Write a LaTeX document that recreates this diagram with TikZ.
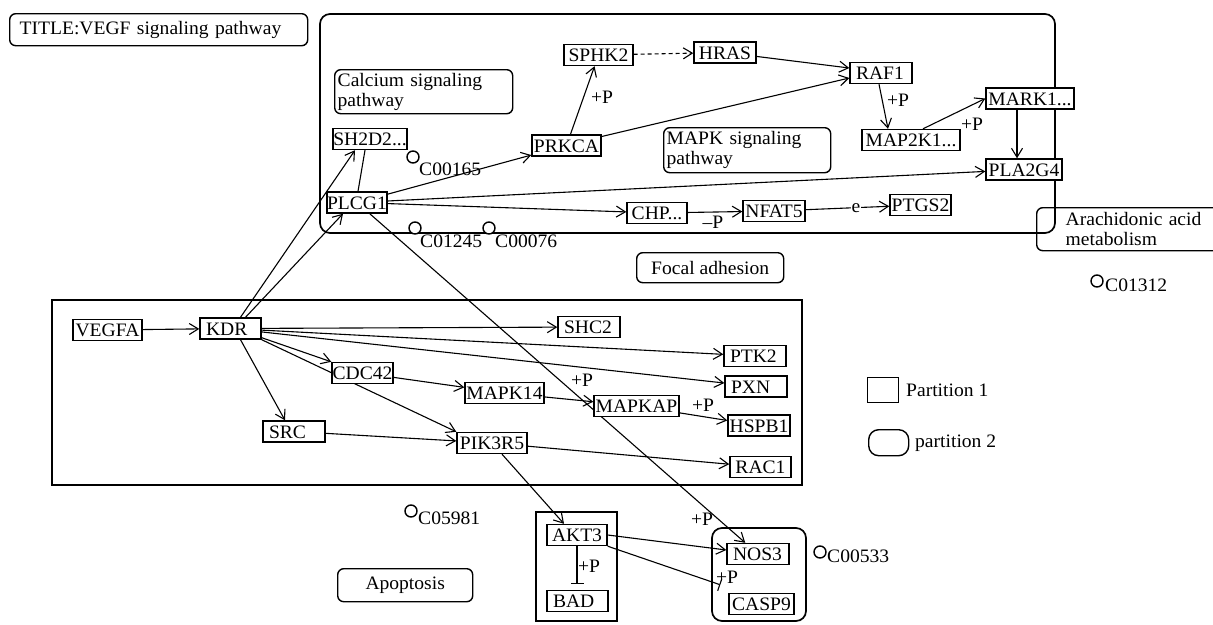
\documentclass[tikz,border=0pt]{standalone}
\usepackage{fontspec}
\setmainfont{Liberation Serif}[FakeStretch=1.03]
\usetikzlibrary{arrows.meta}
\pgfdeclarelayer{bg}
\pgfdeclarelayer{edges}
\pgfsetlayers{bg,edges,main}
\newlength\gtw
\newcommand\gt[2]{\settowidth\gtw{#2}\ifdim\gtw>\dimexpr#1pt-12pt\relax\makebox[#1pt][c]{#2}\else\makebox[#1pt][l]{\hspace{6pt}#2}\fi}
\begin{document}
\begin{tikzpicture}[x=1pt,y=-1pt,
 font=\fontsize{19pt}{20pt}\selectfont,
 gene/.style={draw, fill=white, line width=1.4pt, minimum height=21pt, inner xsep=0pt, inner ysep=0pt, text height=13pt, text depth=0pt},
 cpd/.style={circle, draw, fill=white, line width=1.4pt, minimum size=12pt, inner sep=0pt},
 lbl/.style={inner sep=1pt},
 pw/.style={draw, rounded corners=6pt, line width=1.4pt, align=left, inner ysep=0pt, anchor=north west},
 act/.style={line width=1.1pt, -{Straight Barb[length=9pt,width=11pt]}},
 inh/.style={line width=1.1pt, -{Bar[width=13pt]}},
 link/.style={line width=1.1pt},
 cont/.style={line width=1.7pt},
]
\useasboundingbox (0,0) rectangle (1213,624);
\begin{pgfonlayer}{bg}
\fill[white] (0,0) rectangle (1213,624);
\end{pgfonlayer}
\clip (0,0) rectangle (1213,624);

% containers
\draw[cont, rounded corners=10pt] (320,14) rectangle (1055,233);
\draw[cont] (52,300) rectangle (802,485);
\draw[cont] (536,512) rectangle (617,621);
\draw[cont, rounded corners=10pt] (712,528) rectangle (806,621);

% pathway boxes
\node[pw, inner xsep=10pt, text width=278pt, minimum height=32pt] (title) at (9,13) {TITLE:VEGF signaling pathway};
\node[pw, inner xsep=3pt, text width=172pt, minimum height=44pt] (calc) at (334,69) {Calcium signaling\\pathway};
\node[pw, inner xsep=3pt, text width=161pt, minimum height=45pt] (mapkpw) at (663,127) {MAPK signaling\\pathway};
\node[pw, inner xsep=29pt, text width=142pt, minimum height=43pt] (arach) at (1036,207) {Arachidonic acid\\metabolism};
\node[pw, inner xsep=0pt, align=center, minimum width=147pt, minimum height=30pt] (focal) at (636,252) {Focal adhesion};
\node[pw, inner xsep=0pt, align=center, minimum width=135pt, minimum height=33pt] (apop) at (337,568) {Apoptosis};

% legend
\node[draw, line width=1.4pt, minimum width=31pt, minimum height=25pt, inner sep=0pt, anchor=north west] (leg1) at (867,377) {};
\node[draw, line width=1.4pt, rounded corners=10pt, minimum width=40pt, minimum height=26pt, inner sep=0pt, anchor=north west] (leg2) at (868,429) {};
\node[lbl, anchor=west] (leg1t) at (905,390) {Partition 1};
\node[lbl, anchor=west] (leg2t) at (914,443) {partition 2};

% genes
\node[gene] (vegfa) at (107.5,330) {\gt{69}{VEGFA}};
\node[gene] (kdr) at (230.5,328.5) {\gt{61}{KDR}};
\node[gene] (shc2) at (589,327) {\gt{62}{SHC2}};
\node[gene] (ptk2) at (755,356) {\gt{62}{PTK2}};
\node[gene] (pxn) at (756,386.5) {\gt{62}{PXN}};
\node[gene] (cdc42) at (362.5,373) {\gt{61}{CDC42}};
\node[gene] (mapk14) at (504.5,393) {\gt{79}{MAPK14}};
\node[gene] (mapkap) at (636.5,406) {\gt{85}{MAPKAP}};
\node[gene] (hspb1) at (759,425.5) {\gt{62}{HSPB1}};
\node[gene] (src) at (294,431.5) {\gt{62}{SRC}};
\node[gene] (pik3r5) at (492,443) {\gt{70}{PIK3R5}};
\node[gene] (rac1) at (760.5,467) {\gt{61}{RAC1}};
\node[gene] (sh2d2) at (370,139) {\gt{74}{SH2D2...}};
\node[gene] (plcg1) at (357,202.5) {\gt{60}{PLCG1}};
\node[gene] (prkca) at (566.5,145.5) {\gt{69}{PRKCA}};
\node[gene] (sphk2) at (598.5,55) {\gt{69}{SPHK2}};
\node[gene] (hras) at (725,52.5) {\gt{62}{HRAS}};
\node[gene] (raf1) at (881,73) {\gt{62}{RAF1}};
\node[gene] (map2k1) at (911,140) {\gt{98}{MAP2K1...}};
\node[gene] (mark1) at (1030,98.5) {\gt{88}{MARK1...}};
\node[gene] (pla2g4) at (1024,169.5) {\gt{76}{PLA2G4}};
\node[gene] (chp) at (657,213) {\gt{60}{CHP...}};
\node[gene] (nfat5) at (774,211) {\gt{62}{NFAT5}};
\node[gene] (ptgs2) at (920.5,205) {\gt{61}{PTGS2}};
\node[gene] (akt3) at (577,535) {\gt{60}{AKT3}};
\node[gene] (bad) at (577.5,601) {\gt{61}{BAD}};
\node[gene] (nos3) at (758,554) {\gt{62}{NOS3}};
\node[gene] (casp9) at (761.5,604) {\gt{65}{CASP9}};

% compounds
\node[cpd] (c00165) at (413,157) {};
\node[lbl, anchor=west] (c00165t) at (418,169) {C00165};
\node[cpd] (c01245) at (415,228) {};
\node[lbl, anchor=west] (c01245t) at (419,241) {C01245};
\node[cpd] (c00076) at (489,228) {};
\node[lbl, anchor=west] (c00076t) at (494,241) {C00076};
\node[cpd] (c01312) at (1097,281) {};
\node[lbl, anchor=west] (c01312t) at (1104,285) {C01312};
\node[cpd] (c05981) at (411,511) {};
\node[lbl, anchor=west] (c05981t) at (417,518) {C05981};
\node[cpd] (c00533) at (820,552) {};
\node[lbl, anchor=west] (c00533t) at (826,556) {C00533};

% edge labels
\node[lbl] (p1) at (602,97) {+P};
\node[lbl] (p2) at (898,100) {+P};
\node[lbl] (p3) at (972,124) {+P};
\node[lbl] (p4) at (713,222) {\textendash P};
\node[lbl] (p5) at (582,380) {+P};
\node[lbl] (p6) at (703,405) {+P};
\node[lbl] (p7) at (702,519) {+P};
\node[lbl] (p8) at (589,566) {+P};
\node[lbl] (p9) at (727,577) {+P};

% edges
\begin{pgfonlayer}{edges}
\draw[act] (vegfa) -- (kdr);
\draw[act] ([xshift=10pt]kdr.north) -- ([xshift=-15pt]sh2d2.south);
\draw[act] ([xshift=15pt]kdr.north) -- ([xshift=-14pt]plcg1.south);
\draw[link] ([xshift=-5pt]sh2d2.south) -- ([xshift=1pt]plcg1.north);
\draw[act] (plcg1) -- (prkca);
\draw[act] (plcg1) -- (pla2g4);
\draw[act] (plcg1) -- (chp);
\draw[act] (plcg1) -- (nos3);
\draw[act] (prkca) -- (sphk2);
\draw[act, dash pattern=on 4pt off 3pt] (sphk2) -- (hras);
\draw[act] (hras) -- ([yshift=5pt]raf1.west);
\draw[act] ([yshift=9pt]prkca.east) -- ([yshift=-5pt]raf1.west);
\draw[act] ([xshift=-2pt]raf1.south) -- ([xshift=-23pt]map2k1.north);
\draw[act] ([xshift=12pt]map2k1.north) -- (mark1.west);
\draw[act] ([xshift=-13pt]mark1.south) -- ([xshift=-7pt]pla2g4.north);
\draw[act] (chp) -- (nfat5);
\draw[act] (nfat5) -- (ptgs2) node[pos=0.6, fill=white, inner sep=1pt] (elbl) {e};
\draw[act] (kdr) -- (shc2);
\draw[act] (kdr) -- (ptk2);
\draw[act] (kdr) -- (pxn);
\draw[act] ([yshift=2pt]kdr.south east) -- (cdc42.north west);
\draw[act] (kdr.south east) -- (pik3r5.north west);
\draw[act] ([xshift=10pt]kdr.south) -- ([xshift=-9pt]src.north);
\draw[act] (src) -- (pik3r5);
\draw[act] (cdc42) -- (mapk14);
\draw[act] (mapk14) -- (mapkap);
\draw[act] (mapkap) -- (hspb1);
\draw[act] (pik3r5) -- (rac1);
\draw[act] ([xshift=10pt]pik3r5.south) -- ([xshift=-13pt]akt3.north);
\draw[act] (akt3.east) -- ([yshift=4pt]nos3.west);
\draw[inh] (akt3.south east) -- ([xshift=-8pt,yshift=8pt]casp9.north west);
\draw[inh] (akt3.south) -- ([xshift=-0.5pt,yshift=6pt]bad.north);
\end{pgfonlayer}
\end{tikzpicture}
\end{document}
